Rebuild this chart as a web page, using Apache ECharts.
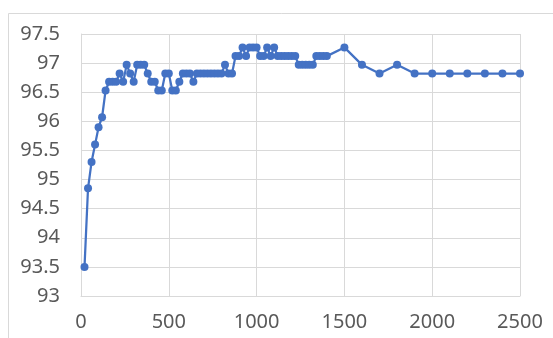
<!DOCTYPE html>
<html>
<head>
<meta charset="utf-8">
<script src="https://cdn.jsdelivr.net/npm/echarts@6/dist/echarts.min.js"></script>
<style>
html,body{margin:0;padding:0;background:#fff;}
#c{width:553px;height:338px;}
</style>
</head>
<body>
<div id="c"></div>
<script>
var xValues = [20,40,60,80,100,120,140,160,180,200,
  220,240,260,280,300,320,340,360,380,400,
  420,440,460,480,500,520,540,560,580,600,
  620,640,660,680,700,720,740,760,780,800,
  820,840,860,880,900,920,940,960,980,1000,
  1020,1040,1060,1080,1100,1120,1140,1160,1180,1200,
  1220,1240,1260,1280,1300,1320,1340,1360,1380,1400,
  1500,1600,1700,1800,1900,2000,2100,2200,2300,2400,2500];
var yValues = [93.5,94.85,95.3,95.6,95.9,96.07,96.53,96.68,96.68,96.68,
  96.82,96.68,96.97,96.82,96.68,96.97,96.97,96.97,96.82,96.68,
  96.68,96.53,96.53,96.82,96.82,96.53,96.53,96.68,96.82,96.82,
  96.82,96.68,96.82,96.82,96.82,96.82,96.82,96.82,96.82,96.82,
  96.97,96.82,96.82,97.12,97.12,97.27,97.12,97.27,97.27,97.27,
  97.12,97.12,97.27,97.12,97.27,97.12,97.12,97.12,97.12,97.12,
  97.12,96.97,96.97,96.97,96.97,96.97,97.12,97.12,97.12,97.12,
  97.27,96.97,96.82,96.97,96.82,96.82,96.82,96.82,96.82,96.82,96.82];
var xTicks = [0,500,1000,1500,2000,2500];
var yTicks = [93,93.5,94,94.5,95,95.5,96,96.5,97,97.5];

var points = xValues.map(function(x,i){return [x,yValues[i]];});
var chart = echarts.init(document.getElementById('c'), null, {renderer:'canvas'});
var labelStyle = {color:'#595959', fontSize:20, fontFamily:'Noto Sans'};
chart.setOption({
  animation:false,
  backgroundColor:'#fff',
  graphic:[{type:'rect', shape:{x:8.5,y:13.5,width:600,height:400}, style:{fill:'none', stroke:'#d9d9d9', lineWidth:1}, silent:true}],
  grid:{left:81, top:34, right:33, bottom:42, containLabel:false},
  xAxis:{type:'value', min:xTicks[0], max:xTicks[xTicks.length-1], interval:500,
    axisLine:{show:true, lineStyle:{color:'#d9d9d9', width:1}},
    axisTick:{show:false},
    axisLabel:Object.assign({margin:16, formatter:function(v){return String(v);}}, labelStyle),
    splitLine:{show:true, lineStyle:{color:'#d9d9d9', width:1}}},
  yAxis:{type:'value', min:yTicks[0], max:yTicks[yTicks.length-1], interval:0.5,
    axisLine:{show:true, lineStyle:{color:'#d9d9d9', width:1}},
    axisTick:{show:false},
    axisLabel:Object.assign({margin:21, formatter:function(v){return String(v);}}, labelStyle),
    splitLine:{show:true, lineStyle:{color:'#d9d9d9', width:1}}},
  series:[{type:'line', data:points, symbol:'circle', symbolSize:8,
    itemStyle:{color:'#4472C4'}, lineStyle:{color:'#4472C4', width:2.25}}]
});
</script>
</body>
</html>
